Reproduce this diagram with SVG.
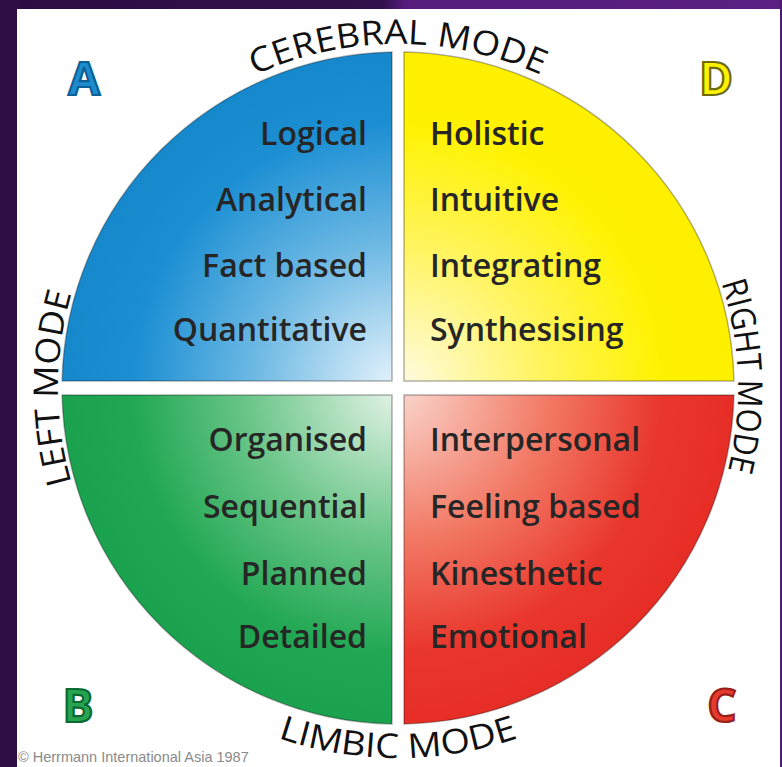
<svg xmlns="http://www.w3.org/2000/svg" xmlns:xlink="http://www.w3.org/1999/xlink" width="782" height="767" viewBox="0 0 782 767">
<style>
.q{stroke:#000;stroke-opacity:0.3;stroke-width:1.5}
.t{font-family:"Open Sans","Liberation Sans",sans-serif;font-weight:600;font-size:32px;fill:#262626}
.m{font-family:"Open Sans","Liberation Sans",sans-serif;font-weight:500;font-size:34px;fill:#111}
.L{font-family:"Open Sans","Liberation Sans",sans-serif;font-weight:700;font-size:46px;stroke-width:2.2;text-anchor:middle}
</style>
<defs>
<linearGradient id="topbar" x1="0" y1="0" x2="1" y2="0">
<stop offset="0" stop-color="#2c0c42"/><stop offset="0.49" stop-color="#33104d"/><stop offset="0.52" stop-color="#561c7c"/><stop offset="1" stop-color="#5a1f82"/>
</linearGradient>
<radialGradient id="gA" gradientUnits="userSpaceOnUse" cx="398" cy="388" r="330">
<stop offset="0" stop-color="#e8f4fc"/><stop offset="0.45" stop-color="#6ab7e3"/><stop offset="0.8" stop-color="#1c8fd3"/><stop offset="1" stop-color="#1688cc"/>
</radialGradient>
<radialGradient id="gD" gradientUnits="userSpaceOnUse" cx="398" cy="388" r="330">
<stop offset="0" stop-color="#fffbe6"/><stop offset="0.45" stop-color="#fff45a"/><stop offset="0.8" stop-color="#fff200"/><stop offset="1" stop-color="#fff000"/>
</radialGradient>
<radialGradient id="gB" gradientUnits="userSpaceOnUse" cx="398" cy="388" r="330">
<stop offset="0" stop-color="#e6f4e8"/><stop offset="0.45" stop-color="#6cc68a"/><stop offset="0.8" stop-color="#22a854"/><stop offset="1" stop-color="#1aa24e"/>
</radialGradient>
<radialGradient id="gC" gradientUnits="userSpaceOnUse" cx="398" cy="388" r="330">
<stop offset="0" stop-color="#fad8cf"/><stop offset="0.45" stop-color="#f27a66"/><stop offset="0.8" stop-color="#e9362c"/><stop offset="1" stop-color="#e62e27"/>
</radialGradient>
<path id="pTop" d="M100.1,216 A344,344 0 0 1 695.9,216"/>
<path id="pBot" d="M77.6,573 A370,370 0 0 0 718.4,573"/>
<path id="pLeft" d="M103.6,558 A340,340 0 0 1 103.6,218"/>
<path id="pRight" d="M638.4,147.6 A340,340 0 0 1 638.4,628.4"/>
</defs>
<rect x="0" y="0" width="782" height="767" fill="#ffffff"/>
<rect x="0" y="0" width="782" height="9" fill="url(#topbar)"/>
<rect x="0" y="0" width="17" height="767" fill="#2e0e44"/>
<rect x="780" y="0" width="2" height="767" fill="#4e1a72"/>

<g id="quadrant-A">
<path class="q" d="M392,381 V52.05 A336,336 0 0 0 62.07,381 Z" fill="url(#gA)"/>
<text class="t" x="367" y="145" text-anchor="end">Logical</text>
<text class="t" x="367" y="211" text-anchor="end">Analytical</text>
<text class="t" x="367" y="277" text-anchor="end">Fact based</text>
<text class="t" x="367" y="341" text-anchor="end">Quantitative</text>
</g>
<g id="quadrant-D">
<path class="q" d="M404,381 V52.05 A336,336 0 0 1 733.93,381 Z" fill="url(#gD)"/>
<text class="t" x="430" y="145">Holistic</text>
<text class="t" x="430" y="211">Intuitive</text>
<text class="t" x="430" y="277">Integrating</text>
<text class="t" x="430" y="341">Synthesising</text>
</g>
<g id="quadrant-B">
<path class="q" d="M392,395 H62.07 A336,336 0 0 0 392,723.95 Z" fill="url(#gB)"/>
<text class="t" x="367" y="451" text-anchor="end">Organised</text>
<text class="t" x="367" y="518" text-anchor="end">Sequential</text>
<text class="t" x="367" y="585" text-anchor="end">Planned</text>
<text class="t" x="367" y="648" text-anchor="end">Detailed</text>
</g>
<g id="quadrant-C">
<path class="q" d="M404,395 H733.93 A336,336 0 0 1 404,723.95 Z" fill="url(#gC)"/>
<text class="t" x="430" y="451">Interpersonal</text>
<text class="t" x="430" y="518">Feeling based</text>
<text class="t" x="430" y="585">Kinesthetic</text>
<text class="t" x="430" y="648">Emotional</text>
</g>

<g id="letters">
<text class="L" x="84" y="95" fill="#1d8ccf" stroke="#0d5f95">A</text>
<text class="L" x="716" y="95" fill="#fff200" stroke="#6e6a10">D</text>
<text class="L" x="78" y="722" fill="#27a452" stroke="#0c6a30">B</text>
<text class="L" x="722" y="722" fill="#e63a2e" stroke="#98201a">C</text>
</g>

<g id="mode-labels">
<text class="m" text-anchor="middle"><textPath xlink:href="#pTop" href="#pTop" startOffset="50%" textLength="295" lengthAdjust="spacingAndGlyphs">CEREBRAL MODE</textPath></text>
<text class="m" text-anchor="middle"><textPath xlink:href="#pBot" href="#pBot" startOffset="50%" textLength="245" lengthAdjust="spacingAndGlyphs">LIMBIC MODE</textPath></text>
<text class="m" text-anchor="middle"><textPath xlink:href="#pLeft" href="#pLeft" startOffset="50%" textLength="192" lengthAdjust="spacingAndGlyphs">LEFT MODE</textPath></text>
<text class="m" text-anchor="middle"><textPath xlink:href="#pRight" href="#pRight" startOffset="47.8%" textLength="190" lengthAdjust="spacingAndGlyphs">RIGHT MODE</textPath></text>
</g>

<text x="18" y="762" font-family="Liberation Sans, Arial, sans-serif" font-size="14.5" fill="#8a8a8a">© Herrmann International Asia 1987</text>
</svg>
